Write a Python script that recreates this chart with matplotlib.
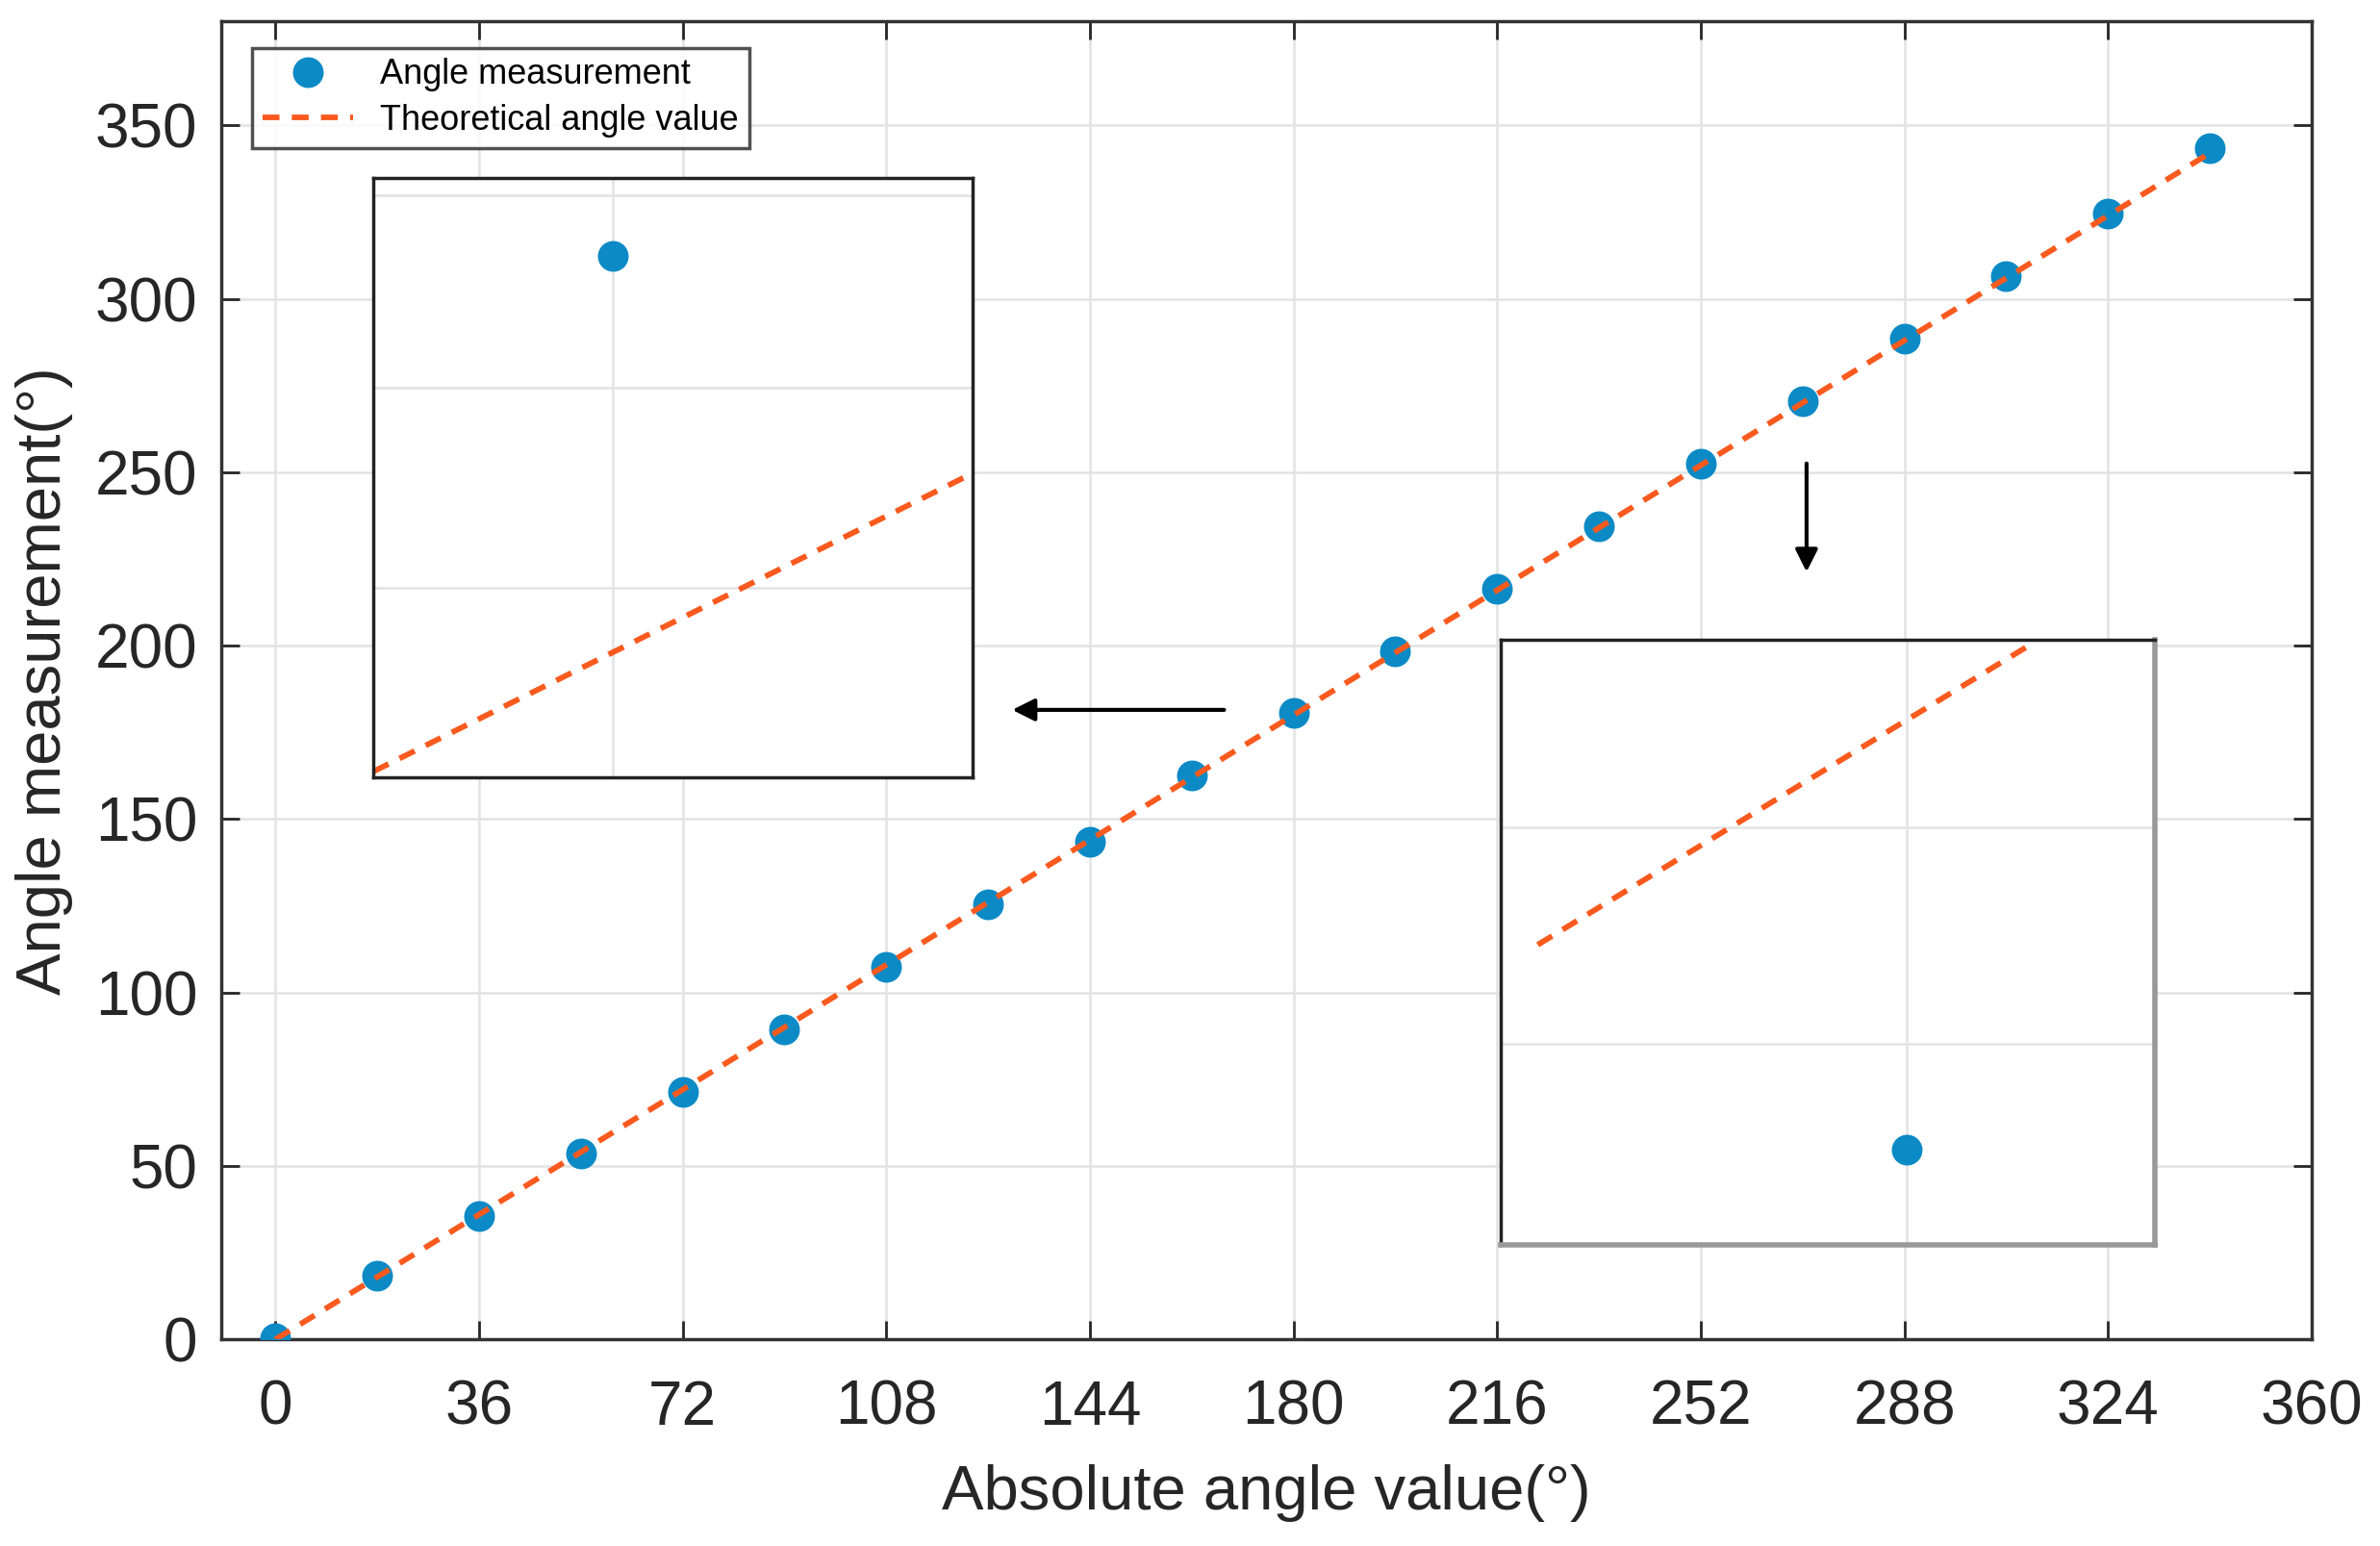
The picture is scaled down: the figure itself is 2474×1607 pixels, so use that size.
import matplotlib.pyplot as plt

plt.rcParams['font.family'] = ['Liberation Sans', 'DejaVu Sans']

# main data
angles = [0, 18, 36, 54, 72, 90, 108, 126, 144, 162, 180, 198, 216, 234, 252, 270, 288, 306, 324, 342]
measured = [0.5, 18.5, 35.5, 53.5, 71.5, 89.5, 107.5, 125.5, 143.5, 162.5, 180.5, 198.5, 216.5,
            234.5, 252.5, 270.5, 288.5, 306.5, 324.5, 343.5]
theoretical = [0, 18, 36, 54, 72, 90, 108, 126, 144, 162, 180, 198, 216, 234, 252, 270, 288, 306, 324, 342]
x_ticks = [0, 36, 72, 108, 144, 180, 216, 252, 288, 324, 360]
y_ticks = [0, 50, 100, 150, 200, 250, 300, 350]

# zoomed views (inset units 0..1)
left_zoom_line_x = [0.0, 0.985]
left_zoom_line_y = [0.01, 0.50]
left_zoom_pt_x = [0.40]
left_zoom_pt_y = [0.87]
right_zoom_line_x = [0.056, 0.807]
right_zoom_line_y = [0.496, 0.99]
right_zoom_pt_x = [0.62]
right_zoom_pt_y = [0.158]

blue = '#0b8ac6'
orange = '#fa5a1e'
grid_c = '#e3e3e3'

fig = plt.figure(figsize=(24.74, 16.07), dpi=100)
ax = fig.add_axes([0.0931, 0.1336, 0.8782, 0.8526])

ax.plot(angles, measured, 'o', color=blue, markersize=22, label='Angle measurement', zorder=3)
ax.plot(angles, theoretical, '--', color=orange, lw=4.2, dashes=(3.0, 2.2),
        label='Theoretical angle value', zorder=4)

ax.set_xlim(-9.5, 360)
ax.set_ylim(0, 380)
ax.set_xticks(x_ticks)
ax.set_yticks(y_ticks)
ax.grid(True, color=grid_c, lw=1.8)
ax.set_axisbelow(True)
ax.tick_params(direction='in', length=14, width=2, top=True, right=True,
               labelsize=46, colors='#262626')
ax.tick_params(axis='x', pad=30)
ax.tick_params(axis='y', pad=18)
for s in ax.spines.values():
    s.set_color('#333333')
    s.set_linewidth(2.5)

ax.set_xlabel('Absolute angle value(°)', fontsize=47, color='#262626', labelpad=20)
ax.set_ylabel('Angle measurement(°)', fontsize=47, color='#262626', labelpad=16)

leg = ax.legend(loc='upper left', bbox_to_anchor=(0.0145, 0.98), fontsize=26,
                frameon=True, fancybox=False, edgecolor='#262626', borderpad=0.3,
                handlelength=2.6, labelspacing=0.35, borderaxespad=0)
leg.get_frame().set_linewidth(2.5)

# arrows pointing to the zoomed views
ax.annotate('', xy=(129.8, 181.5), xytext=(168.2, 181.5),
            arrowprops=dict(arrowstyle='-|>', color='black', lw=3, mutation_scale=35))
ax.annotate('', xy=(270.7, 220.5), xytext=(270.7, 253.3),
            arrowprops=dict(arrowstyle='-|>', color='black', lw=3, mutation_scale=35))


def zoom_box(rect, lx, ly, px, py, hgrid, vgrid, shaded=False):
    ins = fig.add_axes(rect)
    ins.plot(px, py, 'o', color=blue, markersize=22)
    ins.plot(lx, ly, '--', color=orange, lw=4.2, dashes=(3.0, 2.2))
    ins.set_xlim(0, 1)
    ins.set_ylim(0, 1)
    for h in hgrid:
        ins.axhline(h, color=grid_c, lw=1.8, zorder=0)
    for v in vgrid:
        ins.axvline(v, color=grid_c, lw=1.8, zorder=0)
    ins.set_xticks([])
    ins.set_yticks([])
    for s in ins.spines.values():
        s.set_color('#222222')
        s.set_linewidth(2.5)
    if shaded:
        ins.spines['right'].set_color('#999999')
        ins.spines['bottom'].set_color('#999999')
        ins.spines['right'].set_linewidth(4)
        ins.spines['bottom'].set_linewidth(4)
    return ins


zoom_box([0.1569, 0.4971, 0.2519, 0.388], left_zoom_line_x, left_zoom_line_y,
         left_zoom_pt_x, left_zoom_pt_y, [0.316, 0.65, 0.97], [0.40])
zoom_box([0.6307, 0.1945, 0.2749, 0.3919], right_zoom_line_x, right_zoom_line_y,
         right_zoom_pt_x, right_zoom_pt_y, [0.333, 0.69], [0.62], shaded=True)

fig.savefig('out.png', dpi=100)
